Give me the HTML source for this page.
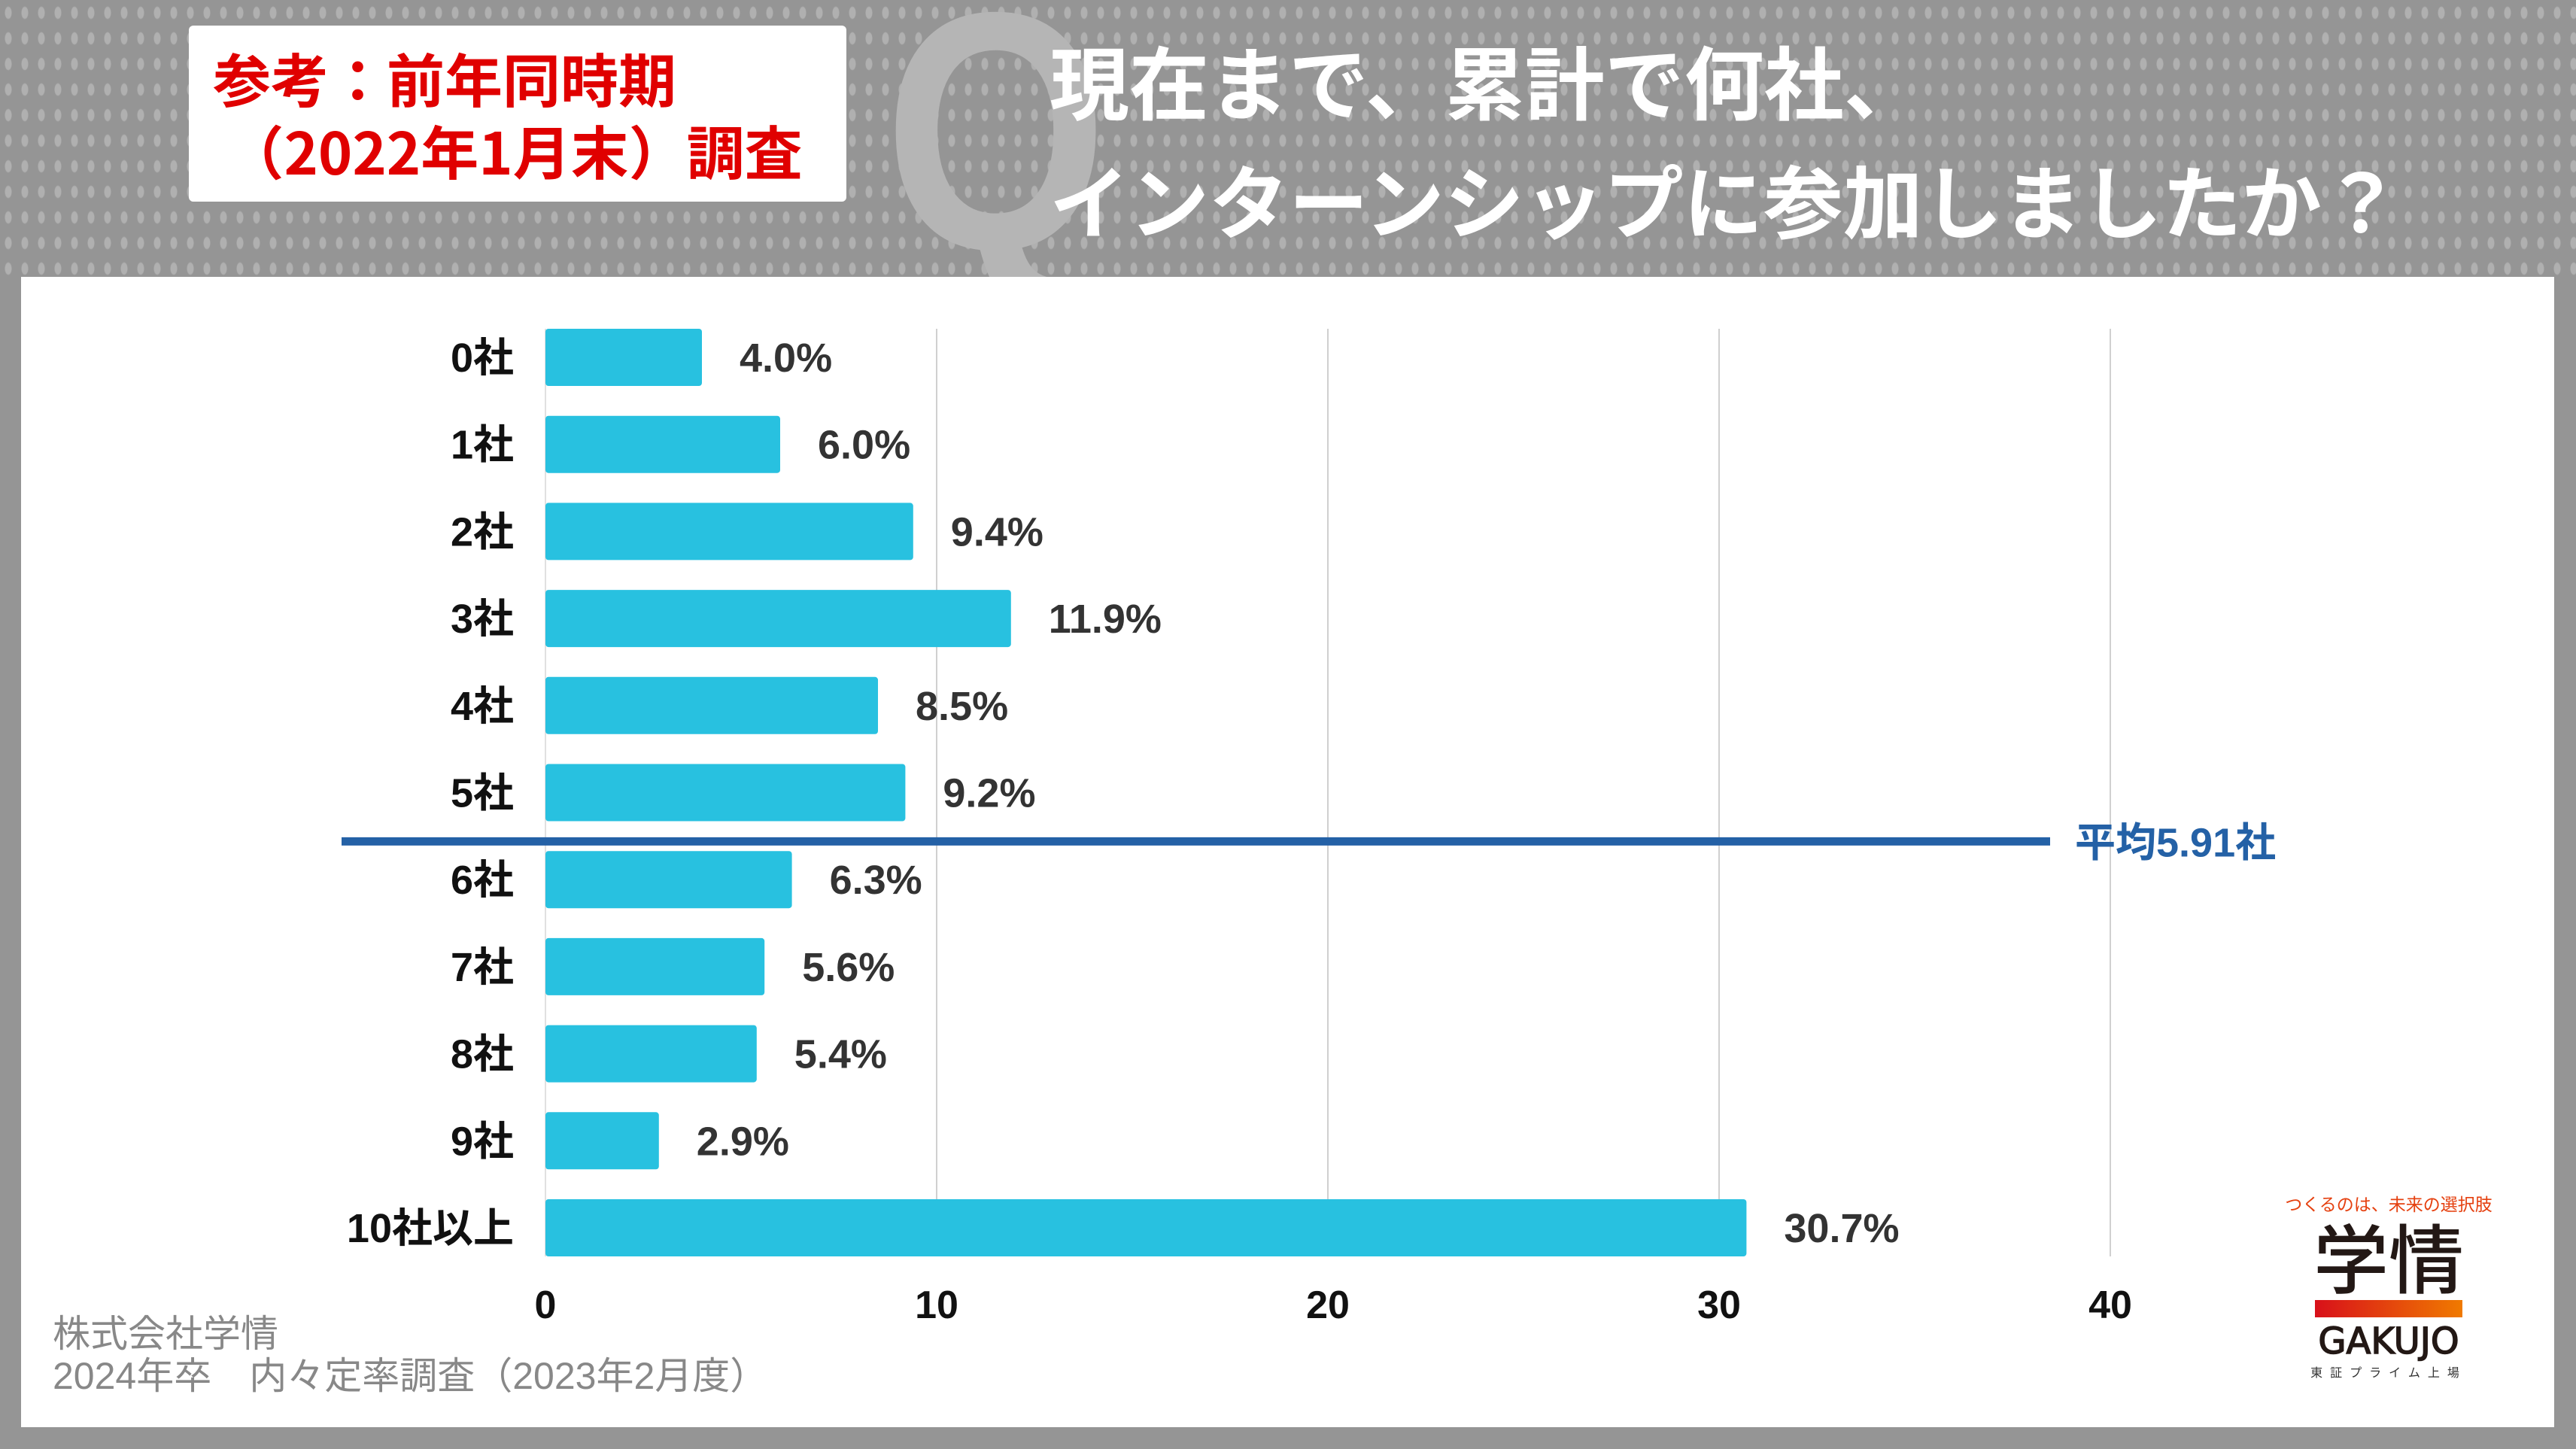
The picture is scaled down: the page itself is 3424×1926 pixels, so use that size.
<!DOCTYPE html>
<html><head><meta charset="utf-8"><style>
html,body{margin:0;padding:0}
body{width:3424px;height:1926px;position:relative;overflow:hidden;background:#959595;font-family:"Liberation Sans","Noto Sans CJK JP",sans-serif}
.bgdots{position:absolute;left:0;top:0;width:3424px;height:368px;background-image:radial-gradient(ellipse 5px 9px at 50% 50%,rgba(255,255,255,0.25) 80%,transparent 100%);background-size:22px 34px}
.panel{position:absolute;left:28px;top:368px;width:3367px;height:1529px;background:#fff}
</style></head><body>
<div class="bgdots"></div>
<div style="position:absolute;left:1175px;top:-50px;font-size:450px;font-weight:bold;color:#b5b5b5;line-height:1;font-family:'Liberation Sans',sans-serif;transform:scaleX(0.85);transform-origin:left top">Q</div>
<div style="position:absolute;left:251px;top:34px;width:874px;height:234px;background:#fff;border-radius:6px"></div>
<div style="position:absolute;left:283px;top:56px;color:#e00000;font-weight:bold;font-size:77px;line-height:96px;font-family:'Noto Sans CJK JP',sans-serif;white-space:nowrap">参考：前年同時期<br>&nbsp;（2022年1月末）調査</div>
<div style="position:absolute;left:1395px;top:26px;color:#fff;font-weight:bold;font-size:106px;line-height:158px;font-family:'Noto Sans CJK JP',sans-serif;white-space:nowrap">現在まで、累計で何社、<br>インターンシップに参加しましたか？</div>
<div class="panel"></div>
<svg id="chart" width="3424" height="1926" style="position:absolute;left:0;top:0"></svg>
<div style="position:absolute;left:70px;top:1745px;color:#888;font-size:50px;line-height:56px;font-family:'Liberation Sans','Noto Sans CJK JP',sans-serif;white-space:nowrap">株式会社学情<br>2024年卒　内々定率調査（2023年2月度）</div>
<div style="position:absolute;left:3030px;top:1582px;width:290px;text-align:center">
<div style="font-size:23px;color:#e5400f;font-family:'Noto Sans CJK JP',sans-serif;white-space:nowrap">つくるのは、未来の選択肢</div>
<div style="font-size:100px;line-height:104px;color:#231815;font-weight:500;font-family:'Noto Sans CJK JP',sans-serif;margin-top:0px">学情</div>
<div style="width:196px;height:23px;margin:8px auto 0;background:linear-gradient(90deg,#d8101a,#f07a00)"></div>
<div style="font-size:48px;line-height:56px;color:#231815;font-family:'DejaVu Sans',sans-serif;margin-top:4px;-webkit-text-stroke:1.5px #231815">GAKUJO</div>
<div style="font-size:16px;color:#333;letter-spacing:10px;font-family:'Noto Sans CJK JP',sans-serif">東証プライム上場</div>
</div>
<script>
const categories=["0社","1社","2社","3社","4社","5社","6社","7社","8社","9社","10社以上"];
const values=[4.0,6.0,9.4,11.9,8.5,9.2,6.3,5.6,5.4,2.9,30.7];
const ticks=[0,10,20,30,40];
const average=[5.91];
const NS="http://www.w3.org/2000/svg";
const svg=document.getElementById('chart');
const X0=725,UNIT=52.0,Y0=475,STEP=115.7,BH=76;
function xs(v){return X0+v*UNIT;}
function yc(i){return Y0+i*STEP;}
function mk(t,a){const e=document.createElementNS(NS,t);for(const k in a)e.setAttribute(k,a[k]);svg.appendChild(e);return e;}
ticks.forEach(t=>{
 if(t>0){const g=mk('line',{x1:xs(t),x2:xs(t),y1:437,y2:1670,stroke:'#d0d0d0','stroke-width':2});
 
 }
 const tl=mk('text',{x:xs(t),y:1752,'text-anchor':'middle','font-size':52,'font-weight':'bold',fill:'#111','font-family':'Liberation Sans, sans-serif'});
 tl.textContent=t;
 
 
});
mk('line',{x1:X0,x2:X0,y1:437,y2:1670,stroke:'#e0e0e0','stroke-width':2});
categories.forEach((c,i)=>{
 const y=yc(i);
 const r=mk('rect',{x:X0,y:y-BH/2,width:xs(values[i])-X0,height:BH,rx:4,fill:'#28c1e0'});
 
 
 const cl=mk('text',{x:683,y:y+19,'text-anchor':'end','font-size':54,'font-weight':'bold',fill:'#111','font-family':'Liberation Sans, Noto Sans CJK JP, sans-serif'});
 cl.textContent=c;
 
 
 const vl=mk('text',{x:xs(values[i])+50,y:y+19,'font-size':54,'font-weight':'bold',fill:'#333','font-family':'Liberation Sans, sans-serif'});
 vl.textContent=values[i].toFixed(1)+'%';
 
 
});
const ay=yc(Math.floor(average[0]))+STEP/2+7;
const al=mk('line',{x1:454,x2:2725,y1:ay,y2:ay,stroke:'#2461a6','stroke-width':11});


const at=mk('text',{x:2758,y:ay+20,'font-size':54,'font-weight':'bold',fill:'#2461a6','font-family':'Liberation Sans, Noto Sans CJK JP, sans-serif'});
at.textContent='平均'+average[0]+'社';


</script>
</body></html>
